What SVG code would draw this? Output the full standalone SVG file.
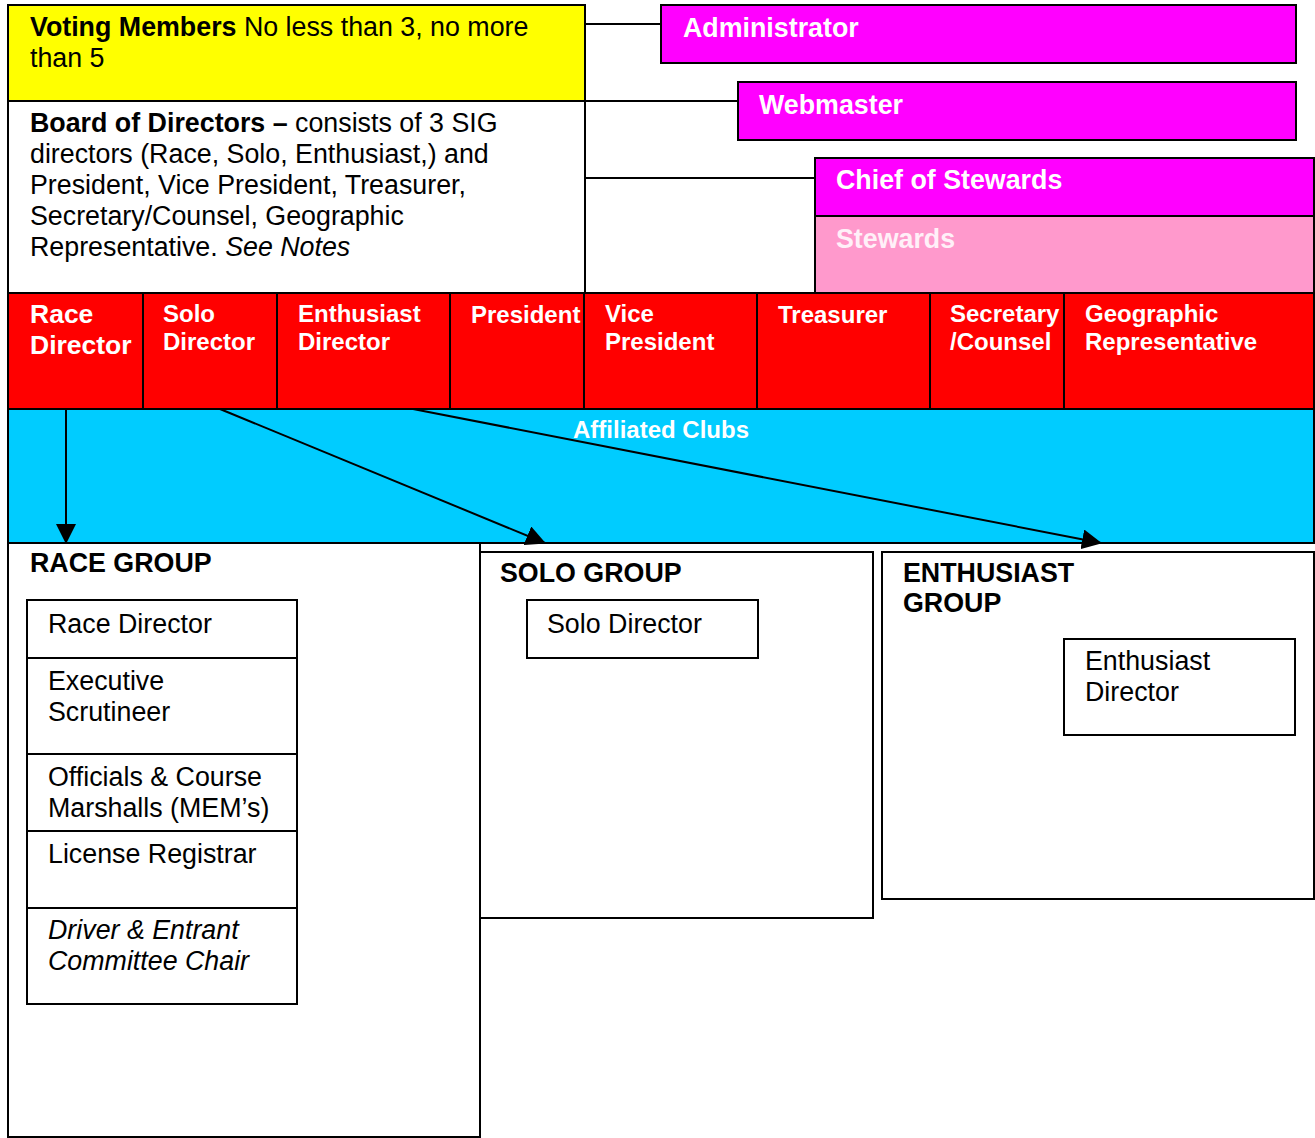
<svg xmlns="http://www.w3.org/2000/svg" width="1315" height="1138" viewBox="0 0 1315 1138">
<style>
text{font-family:"Liberation Sans",Arial,sans-serif;}
.box{stroke:#000;stroke-width:2;}
.w{fill:#fff;}
.t{font-size:26.8px;fill:#000;}
.b{font-weight:bold;}
.i{font-style:italic;}
.wt{fill:#fff;font-weight:bold;}
.st{fill:#FFF0F8;font-weight:bold;font-size:26.8px;}
.r{fill:#FF0000;}
.m{fill:#FF00FF;}
.ln{stroke:#000;stroke-width:2;fill:none;}
</style>
<defs>
<marker id="ah" viewBox="0 0 20 20" refX="19" refY="10" markerWidth="20" markerHeight="20" markerUnits="userSpaceOnUse" orient="auto">
<path d="M0,0 L20,10 L0,20 Z" fill="#000"/>
</marker>
</defs>
<rect x="0" y="0" width="1315" height="1138" fill="#fff"/>

<g id="voting">
<rect class="box" x="8" y="5" width="577" height="96" fill="#FFFF00"/>
<text class="t" x="30" y="36"><tspan class="b">Voting Members</tspan> No less than 3, no more</text>
<text class="t" x="30" y="67">than 5</text>
</g>

<g id="board">
<rect class="box w" x="8" y="101" width="577" height="192"/>
<text class="t" x="30" y="132"><tspan class="b">Board of Directors –</tspan> consists of 3 SIG</text>
<text class="t" x="30" y="163">directors (Race, Solo, Enthusiast,) and</text>
<text class="t" x="30" y="194">President, Vice President, Treasurer,</text>
<text class="t" x="30" y="225">Secretary/Counsel, Geographic</text>
<text class="t" x="30" y="256">Representative. <tspan class="i">See Notes</tspan></text>
</g>

<g id="administrator">
<rect class="box m" x="661" y="5" width="635" height="58"/>
<text class="t wt" x="683" y="37">Administrator</text>
</g>
<g id="webmaster">
<rect class="box m" x="738" y="82" width="558" height="58"/>
<text class="t wt" x="759" y="114">Webmaster</text>
</g>
<g id="chief">
<rect class="box m" x="815" y="158" width="499" height="58"/>
<text class="t wt" x="836" y="189">Chief of Stewards</text>
</g>
<g id="stewards">
<rect class="box" x="815" y="216" width="499" height="77" fill="#FF99CC"/>
<text class="st" x="836" y="248">Stewards</text>
</g>

<g id="race-director">
<rect class="box r" x="8" y="293" width="135" height="116"/>
<text class="wt" font-size="26.5" x="30" y="323">Race</text>
<text class="wt" font-size="26.5" x="30" y="354">Director</text>
</g>
<g id="solo-director">
<rect class="box r" x="143" y="293" width="134" height="116"/>
<text class="wt" font-size="24" x="163" y="322">Solo</text>
<text class="wt" font-size="24" x="163" y="350">Director</text>
</g>
<g id="enthusiast-director">
<rect class="box r" x="277" y="293" width="173" height="116"/>
<text class="wt" font-size="24" x="298" y="322">Enthusiast</text>
<text class="wt" font-size="24" x="298" y="350">Director</text>
</g>
<g id="president">
<rect class="box r" x="450" y="293" width="134" height="116"/>
<text class="wt" font-size="24" x="471" y="323">President</text>
</g>
<g id="vice-president">
<rect class="box r" x="584" y="293" width="173" height="116"/>
<text class="wt" font-size="24" x="605" y="322">Vice</text>
<text class="wt" font-size="24" x="605" y="350">President</text>
</g>
<g id="treasurer">
<rect class="box r" x="757" y="293" width="173" height="116"/>
<text class="wt" font-size="24" x="778" y="323">Treasurer</text>
</g>
<g id="secretary">
<rect class="box r" x="930" y="293" width="134" height="116"/>
<text class="wt" font-size="24" x="950" y="322">Secretary</text>
<text class="wt" font-size="24" x="950" y="350">/Counsel</text>
</g>
<g id="geographic">
<rect class="box r" x="1064" y="293" width="250" height="116"/>
<text class="wt" font-size="24" x="1085" y="322">Geographic</text>
<text class="wt" font-size="24" x="1085" y="350">Representative</text>
</g>

<g id="affiliated-clubs">
<rect class="box" x="8" y="409" width="1306" height="134" fill="#00CCFF"/>
<text class="wt" font-size="24" x="661" y="438" text-anchor="middle">Affiliated Clubs</text>
</g>

<g id="race-group">
<rect class="box w" x="8" y="543" width="472" height="594"/>
<text class="t b" x="30" y="572">RACE GROUP</text>
<rect class="box w" x="27" y="600" width="270" height="58"/>
<text class="t" x="48" y="633">Race Director</text>
<rect class="box w" x="27" y="658" width="270" height="96"/>
<text class="t" x="48" y="690">Executive</text>
<text class="t" x="48" y="721">Scrutineer</text>
<rect class="box w" x="27" y="754" width="270" height="77"/>
<text class="t" x="48" y="786">Officials &amp; Course</text>
<text class="t" x="48" y="817">Marshalls (MEM’s)</text>
<rect class="box w" x="27" y="831" width="270" height="77"/>
<text class="t" x="48" y="863">License Registrar</text>
<rect class="box w" x="27" y="908" width="270" height="96"/>
<text class="t i" x="48" y="939">Driver &amp; Entrant</text>
<text class="t i" x="48" y="970">Committee Chair</text>
</g>

<g id="solo-group">
<rect class="box w" x="480" y="552" width="393" height="366"/>
<text class="t b" x="500" y="582">SOLO GROUP</text>
<rect class="box w" x="527" y="600" width="231" height="58"/>
<text class="t" x="547" y="633">Solo Director</text>
</g>

<g id="enthusiast-group">
<rect class="box w" x="882" y="552" width="432" height="347"/>
<text class="t b" x="903" y="582">ENTHUSIAST</text>
<text class="t b" x="903" y="612">GROUP</text>
<rect class="box w" x="1064" y="639" width="231" height="96"/>
<text class="t" x="1085" y="670">Enthusiast</text>
<text class="t" x="1085" y="701">Director</text>
</g>

<g id="connectors">
<line class="ln" x1="585" y1="24" x2="661" y2="24"/>
<line class="ln" x1="585" y1="101" x2="738" y2="101"/>
<line class="ln" x1="585" y1="178" x2="815" y2="178"/>
<line class="ln" x1="66" y1="409" x2="66" y2="543" marker-end="url(#ah)"/>
<line class="ln" x1="220" y1="409" x2="545" y2="543" marker-end="url(#ah)"/>
<line class="ln" x1="413" y1="409" x2="1101" y2="543" marker-end="url(#ah)"/>
</g>
</svg>
